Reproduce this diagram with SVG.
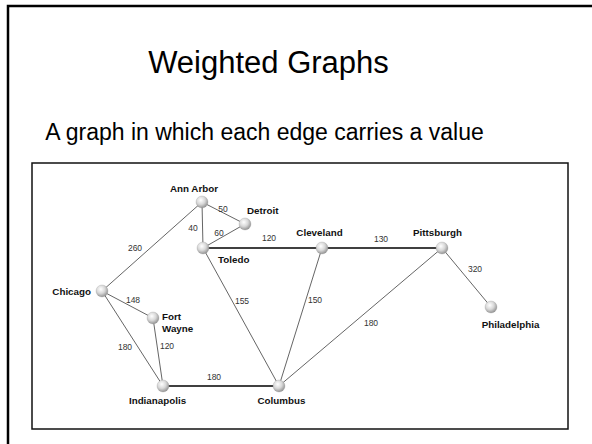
<svg xmlns="http://www.w3.org/2000/svg" width="592" height="444" viewBox="0 0 592 444">
<defs>
<radialGradient id="ball" cx="0.4" cy="0.35" r="0.7">
<stop offset="0" stop-color="#ffffff"/>
<stop offset="0.5" stop-color="#d8d8d8"/>
<stop offset="1" stop-color="#8a8a8a"/>
</radialGradient>
<style>
.title{font-family:"Liberation Sans",Arial,sans-serif;fill:#000}
.city{font-family:"Liberation Sans",Arial,sans-serif;font-size:9.8px;font-weight:bold;fill:#111}
.w{font-family:"Liberation Sans",Arial,sans-serif;font-size:8.5px;fill:#333;text-anchor:middle}
.e{stroke:#222;stroke-width:0.7;fill:none}
.eb{stroke:#000;stroke-width:1.5;fill:none}
.n{fill:url(#ball);stroke:#999;stroke-width:0.3}
</style>
</defs>
<rect width="592" height="444" fill="#fff"/>
<path d="M8,444 V6 H592" fill="none" stroke="#000" stroke-width="2.5"/>
<text class="title" x="268.5" y="73" font-size="31" text-anchor="middle">Weighted Graphs</text>
<text class="title" x="264.5" y="140" font-size="23" text-anchor="middle">A graph in which each edge carries a value</text>
<rect x="32" y="163" width="536" height="266" fill="none" stroke="#111" stroke-width="1.5"/>
<g id="edges">
<line class="e" x1="202" y1="202" x2="245" y2="224"/>
<line class="e" x1="202" y1="202" x2="203" y2="248"/>
<line class="e" x1="245" y1="224" x2="203" y2="248"/>
<line class="e" x1="202" y1="202" x2="102" y2="291"/>
<line class="eb" x1="203" y1="248" x2="322" y2="248"/>
<line class="eb" x1="322" y1="248" x2="442" y2="248"/>
<line class="e" x1="442" y1="248" x2="491" y2="307"/>
<line class="e" x1="203" y1="248" x2="279" y2="386"/>
<line class="e" x1="322" y1="248" x2="279" y2="386"/>
<line class="e" x1="442" y1="248" x2="279" y2="386"/>
<line class="e" x1="102" y1="291" x2="153" y2="318"/>
<line class="e" x1="102" y1="291" x2="163" y2="386"/>
<line class="e" x1="153" y1="318" x2="163" y2="386"/>
<line class="eb" x1="163" y1="386" x2="279" y2="386"/>
<text class="w" x="223" y="212">50</text>
<text class="w" x="193" y="231">40</text>
<text class="w" x="219" y="236">60</text>
<text class="w" x="269" y="241">120</text>
<text class="w" x="135" y="251">260</text>
<text class="w" x="133" y="303">148</text>
<text class="w" x="242" y="304">155</text>
<text class="w" x="381" y="242">130</text>
<text class="w" x="475" y="272">320</text>
<text class="w" x="315" y="303">150</text>
<text class="w" x="371" y="326">180</text>
<text class="w" x="125" y="350">180</text>
<text class="w" x="167" y="349">120</text>
<text class="w" x="214" y="380">180</text>
</g>
<g id="annarbor"><circle class="n" cx="202" cy="202" r="6"/><text class="city" x="194" y="192" text-anchor="middle">Ann Arbor</text></g>
<g id="detroit"><circle class="n" cx="245" cy="224" r="6"/><text class="city" x="247" y="214">Detroit</text></g>
<g id="toledo"><circle class="n" cx="203" cy="248" r="6"/><text class="city" x="218" y="263">Toledo</text></g>
<g id="chicago"><circle class="n" cx="102" cy="291" r="6"/><text class="city" x="91" y="295" text-anchor="end">Chicago</text></g>
<g id="cleveland"><circle class="n" cx="322" cy="248" r="6"/><text class="city" x="319.5" y="236" text-anchor="middle">Cleveland</text></g>
<g id="pittsburgh"><circle class="n" cx="442" cy="248" r="6"/><text class="city" x="437.5" y="236" text-anchor="middle">Pittsburgh</text></g>
<g id="philadelphia"><circle class="n" cx="491" cy="307" r="6"/><text class="city" x="510.5" y="328" text-anchor="middle">Philadelphia</text></g>
<g id="fortwayne"><circle class="n" cx="153" cy="318" r="6"/><text class="city" x="162" y="320">Fort</text><text class="city" x="162" y="332">Wayne</text></g>
<g id="indianapolis"><circle class="n" cx="163" cy="386" r="6"/><text class="city" x="157.5" y="404" text-anchor="middle">Indianapolis</text></g>
<g id="columbus"><circle class="n" cx="279" cy="386" r="6"/><text class="city" x="281.5" y="404" text-anchor="middle">Columbus</text></g>
</svg>
